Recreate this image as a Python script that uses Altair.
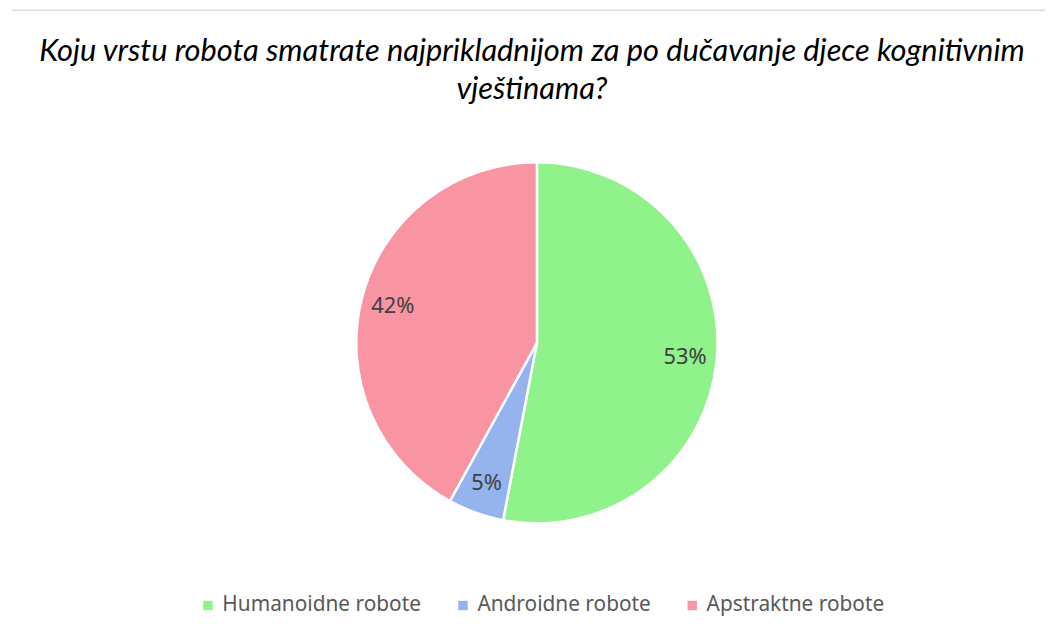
import altair as alt
import pandas as pd

categories = ["Humanoidne robote", "Androidne robote", "Apstraktne robote"]
values = [53, 5, 42]
labels = ["53%", "5%", "42%"]
colors = ["#8FF28A", "#95B3EC", "#F995A3"]
title_lines = [
    "Koju vrstu robota smatrate najprikladnijom za po dučavanje djece kognitivnim",
    "vještinama?",
]

df = pd.DataFrame({
    "kategorija": categories,
    "vrijednost": values,
    "oznaka": labels,
    "redoslijed": list(range(len(categories))),
})

# layout: the view is centred on the pie
PAD_L, PAD_T, PAD_R, PAD_B = 25, 55, 4, 1
W, H = 1016, 560

base = alt.Chart(df).encode(
    theta=alt.Theta("vrijednost:Q", stack=True),
    order=alt.Order("redoslijed:O", sort="ascending"),
)

pie = base.mark_arc(outerRadius=182, stroke="white", strokeWidth=2.5).encode(
    color=alt.Color(
        "kategorija:N",
        scale=alt.Scale(domain=categories, range=colors),
        sort=None,
        legend=alt.Legend(
            title=None,
            orient="none",
            direction="horizontal",
            legendX=166,
            legendY=534,
            symbolType="square",
            symbolSize=90,
            symbolStrokeWidth=0,
            labelFont="Noto Sans",
            labelFontSize=21,
            labelColor="#595959",
            labelOffset=4,
            labelLimit=0,
            columnPadding=31,
        ),
    )
)

text = base.mark_text(radius=150, font="Noto Sans", fontSize=22, color="#404040").encode(
    text="oznaka:N"
)

title = alt.Chart(pd.DataFrame({"t": [0]})).mark_text(
    text=title_lines,
    font="Lato",
    fontSize=31,
    fontStyle="italic",
    color="#000000",
    lineHeight=38,
    align="center",
    baseline="middle",
    clip=False,
).encode(x=alt.value(W / 2 - 5), y=alt.value(-13))

line = alt.Chart(pd.DataFrame({"t": [0]})).mark_rule(
    color="#D9D9D9", strokeWidth=1.5, clip=False
).encode(x=alt.value(-PAD_L + 4), x2=alt.value(W + PAD_R), y=alt.value(-55))

chart = (
    alt.layer(line, title, pie, text)
    .properties(
        width=W,
        height=H,
        padding={"left": PAD_L, "top": PAD_T, "right": PAD_R, "bottom": PAD_B},
        autosize=alt.AutoSizeParams(type="none"),
    )
    .configure_view(stroke=None)
)

chart.save("out.html", embed_options={"renderer": "svg", "actions": False})
